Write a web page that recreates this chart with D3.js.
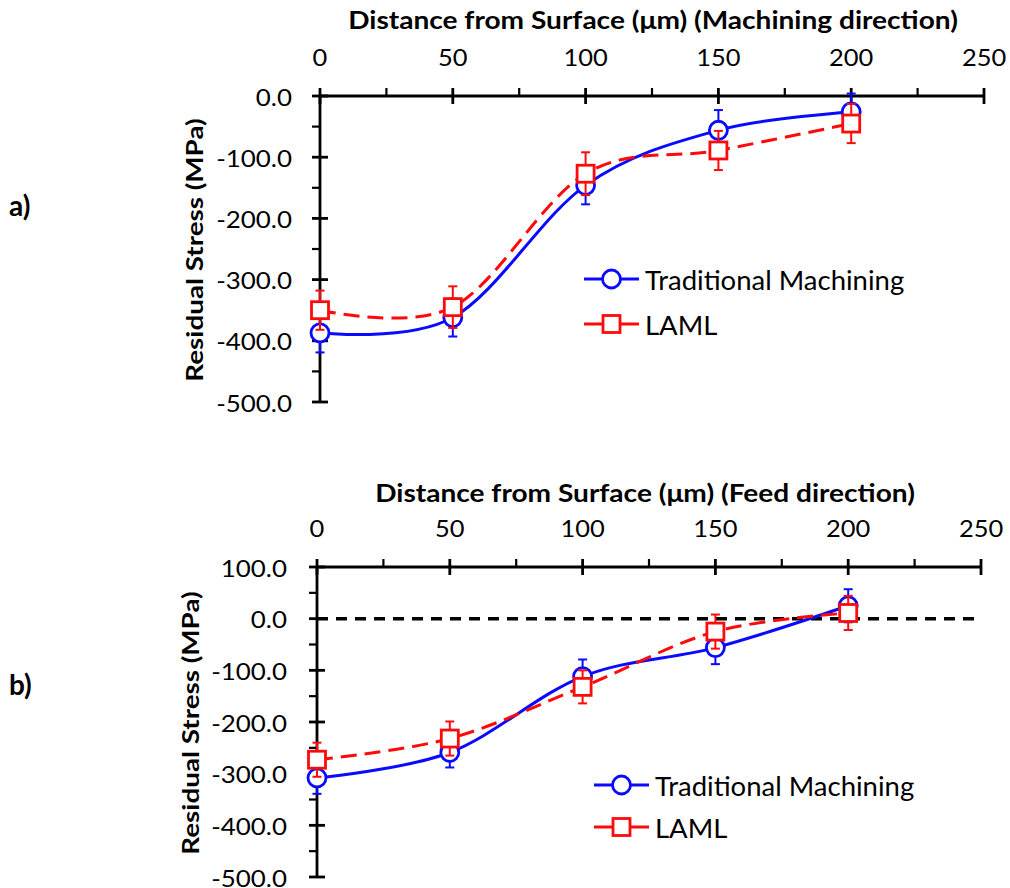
<!DOCTYPE html>
<html>
<head>
<meta charset="utf-8">
<script src="https://cdn.jsdelivr.net/npm/d3@7"></script>
<style>
  html, body { margin: 0; padding: 0; background: #fff; }
  svg { display: block; }
  text { font-family: Lato, "Open Sans", sans-serif; fill: #000; }
</style>
</head>
<body>
<svg id="fig" width="1010" height="888"></svg>
<script>
// Depth below the machined surface (µm)
const depth = [0, 50, 100, 150, 200];

// a) Machining direction residual stress (MPa) with error half-widths
const machTrad    = [-387, -362, -146, -56, -26];
const machTradErr = [32, 31, 31, 33, 30];
const machLaml    = [-350, -345, -127, -89, -45];
const machLamlErr = [32, 34, 35, 32, 32];

// b) Feed direction residual stress (MPa) with error half-widths
const feedTrad    = [-308, -259, -112, -56, 25];
const feedTradErr = [31, 29, 33, 32, 32];
const feedLaml    = [-273, -232, -132, -25, 11];
const feedLamlErr = [33, 33, 32, 33, 33];

// Axis ticks
const xTicks = [0, 50, 100, 150, 200, 250];
const xMinor = [25, 75, 125, 175, 225];
const yTicksMach = [0, -100, -200, -300, -400, -500];
const yMinorMach = [-50, -150, -250, -350, -450];
const yTicksFeed = [100, 0, -100, -200, -300, -400, -500];
const yMinorFeed = [50, -50, -150, -250, -350, -450];

const seriesNames = ["Traditional Machining", "LAML"];
const BLUE = "#0a0aff", RED = "#ff0a0a";

const svg = d3.select("#fig");
const fmt = v => v.toFixed(1);

function panel(o) {
  const g = svg.append("g");
  const x = d3.scaleLinear().domain([0, 250]).range([o.left, o.right]);
  const y = d3.scaleLinear().domain(o.yDomain).range([o.top, o.bottom]);
  const y0 = y(o.yDomain[0]);

  // x axis along the top of the plot
  const xa = g.append("g").attr("transform", `translate(0,${y0})`);
  xa.append("line").attr("x1", x(0)).attr("x2", x(250))
    .attr("stroke", "#000").attr("stroke-width", 2.8);
  xa.selectAll(".xmaj").data(xTicks).join("line")
    .attr("x1", d => x(d)).attr("x2", d => x(d))
    .attr("y1", -8).attr("y2", 8)
    .attr("stroke", "#000").attr("stroke-width", 2.8);
  xa.selectAll(".xmin").data(xMinor).join("line")
    .attr("x1", d => x(d)).attr("x2", d => x(d))
    .attr("y1", -8).attr("y2", 0)
    .attr("stroke", "#000").attr("stroke-width", 2.2);
  xa.selectAll(".xlab").data(xTicks).join("text")
    .attr("transform", d => `translate(${x(d)},-39) scale(1.06,1)`)
    .attr("text-anchor", "middle").attr("dominant-baseline", "central")
    .attr("font-size", 24).text(d => d);
  g.append("text")
    .attr("transform", `translate(${o.titleX},${o.titleY}) scale(1.17,1)`)
    .attr("text-anchor", "middle").attr("dominant-baseline", "central")
    .attr("font-size", 24).attr("font-weight", 700).text(o.title);

  // y axis
  const ya = g.append("g").attr("transform", `translate(${x(0)},0)`);
  ya.append("line").attr("y1", y(o.yDomain[0])).attr("y2", y(o.yDomain[1]))
    .attr("stroke", "#000").attr("stroke-width", 2.8);
  ya.selectAll(".ymaj").data(o.yTicks).join("line")
    .attr("y1", d => y(d)).attr("y2", d => y(d))
    .attr("x1", -8).attr("x2", 8)
    .attr("stroke", "#000").attr("stroke-width", 2.8);
  ya.selectAll(".ymin").data(o.yMinor).join("line")
    .attr("y1", d => y(d)).attr("y2", d => y(d))
    .attr("x1", -8).attr("x2", 0)
    .attr("stroke", "#000").attr("stroke-width", 2.2);
  ya.selectAll(".ylab").data(o.yTicks).join("text")
    .attr("transform", d => `translate(${-o.labelGap},${y(d)}) scale(1.08,1)`)
    .attr("text-anchor", "end").attr("dominant-baseline", "central")
    .attr("font-size", 24).text(fmt);
  g.append("text")
    .attr("transform", `translate(${o.yTitleX},${(y(o.yDomain[0]) + y(o.yDomain[1])) / 2 + 1}) rotate(-90) scale(1.21,1)`)
    .attr("text-anchor", "middle").attr("dominant-baseline", "central")
    .attr("font-size", 23).attr("font-weight", 700).text("Residual Stress (MPa)");

  // panel letter
  g.append("text").attr("x", 9).attr("y", o.letterY)
    .attr("dominant-baseline", "central")
    .attr("font-family", "'Liberation Sans', Arial, sans-serif")
    .attr("font-size", 28).attr("font-weight", 700).text(o.letter);

  // zero reference line
  if (o.zeroLine) {
    g.append("line").attr("x1", x(0)).attr("x2", x(250))
      .attr("y1", y(0)).attr("y2", y(0))
      .attr("stroke", "#000").attr("stroke-width", 3.5)
      .attr("stroke-dasharray", "11,8");
  }

  const curve = d3.curveCatmullRom.alpha(0);
  const series = [
    { vals: o.trad, err: o.tradErr, color: BLUE, dash: null, marker: "circle" },
    { vals: o.laml, err: o.lamlErr, color: RED, dash: "16,8", marker: "square" }
  ];

  const drawMarker = (sel, color) => sel.each(function (p) {
    const m = d3.select(this);
    if (p.marker === "circle") {
      m.append("ellipse").attr("cx", p.cx).attr("cy", p.cy).attr("rx", 9).attr("ry", 9)
        .attr("fill", "#fff").attr("stroke", color).attr("stroke-width", 2.8);
    } else {
      m.append("rect").attr("x", p.cx - 8.5).attr("y", p.cy - 8.5).attr("width", 17).attr("height", 17)
        .attr("fill", "#fff").attr("stroke", color).attr("stroke-width", 2.8);
    }
  });

  series.forEach(s => {
    const pts = depth.map((d, i) => ({ d, v: s.vals[i], e: s.err[i] }));
    const sg = g.append("g");
    // error bars
    sg.selectAll(".eb").data(pts).join("line")
      .attr("x1", p => x(p.d)).attr("x2", p => x(p.d))
      .attr("y1", p => y(p.v - p.e)).attr("y2", p => y(p.v + p.e))
      .attr("stroke", s.color).attr("stroke-width", 2);
    sg.selectAll(".capLo").data(pts).join("line")
      .attr("x1", p => x(p.d) - 4.5).attr("x2", p => x(p.d) + 4.5)
      .attr("y1", p => y(p.v - p.e)).attr("y2", p => y(p.v - p.e))
      .attr("stroke", s.color).attr("stroke-width", 2);
    sg.selectAll(".capHi").data(pts).join("line")
      .attr("x1", p => x(p.d) - 4.5).attr("x2", p => x(p.d) + 4.5)
      .attr("y1", p => y(p.v + p.e)).attr("y2", p => y(p.v + p.e))
      .attr("stroke", s.color).attr("stroke-width", 2);
    // smoothed line
    sg.append("path").datum(pts)
      .attr("d", d3.line().x(p => x(p.d)).y(p => y(p.v)).curve(curve))
      .attr("fill", "none").attr("stroke", s.color).attr("stroke-width", 3)
      .attr("stroke-dasharray", s.dash);
    // markers
    sg.selectAll(".mk").data(pts.map(p => ({ cx: x(p.d), cy: y(p.v), marker: s.marker })))
      .join("g").call(drawMarker, s.color);
  });

  // legend
  const lg = g.append("g");
  seriesNames.forEach((name, i) => {
    const s = series[i];
    const ly = o.legendY + i * o.legendGap;
    lg.append("line").attr("x1", o.legendX).attr("x2", o.legendX + 55)
      .attr("y1", ly).attr("y2", ly)
      .attr("stroke", s.color).attr("stroke-width", 3);
    lg.append("g").datum({ cx: o.legendX + 27.5, cy: ly, marker: s.marker }).call(drawMarker, s.color);
    lg.append("text").attr("x", o.legendX + 61).attr("y", ly)
      .attr("dominant-baseline", "central").attr("font-size", 27.5).text(name);
  });
}

panel({
  left: 320, right: 984, top: 96, bottom: 402, yDomain: [0, -500],
  yTicks: yTicksMach, yMinor: yMinorMach, labelGap: 28,
  trad: machTrad, tradErr: machTradErr, laml: machLaml, lamlErr: machLamlErr,
  title: "Distance from Surface (μm) (Machining direction)", titleX: 653, titleY: 20,
  yTitleX: 194, letter: "a)", letterY: 205,
  legendX: 584, legendY: 279, legendGap: 45, zeroLine: false
});

panel({
  left: 317, right: 981, top: 567, bottom: 877, yDomain: [100, -500],
  yTicks: yTicksFeed, yMinor: yMinorFeed, labelGap: 30,
  trad: feedTrad, tradErr: feedTradErr, laml: feedLaml, lamlErr: feedLamlErr,
  title: "Distance from Surface (μm) (Feed direction)", titleX: 645, titleY: 493,
  yTitleX: 190, letter: "b)", letterY: 684,
  legendX: 594, legendY: 785, legendGap: 42, zeroLine: true
});
</script>
</body>
</html>
